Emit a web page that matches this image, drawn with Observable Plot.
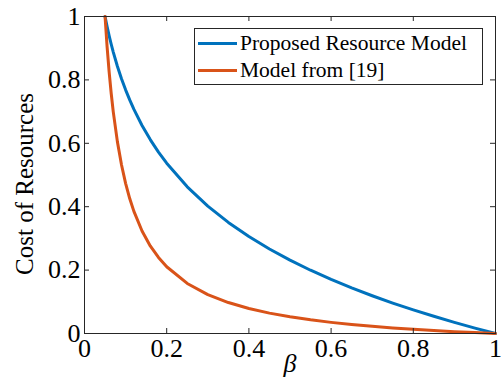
<!DOCTYPE html>
<html>
<head>
<meta charset="utf-8">
<script src="https://cdn.jsdelivr.net/npm/d3@7"></script>
<script src="https://cdn.jsdelivr.net/npm/@observablehq/plot@0.6"></script>
<style>
  body { margin: 0; background: white; }
  #wrap { position: relative; width: 501px; height: 388px; font-family: 'Liberation Serif', serif; }
  #wrap svg text { font-family: 'Liberation Serif', serif; }
  #legend { position: absolute; left: 194px; top: 28px; width: 287px; height: 55px; border: 1px solid #262626; background: white; font-family: 'Liberation Serif', serif; }
  .row { position: absolute; left: 3px; height: 27px; display: flex; align-items: center; font-size: 21.5px; color: #000; white-space: nowrap; }
  .sw { width: 39px; height: 3px; margin-right: 3px; }
</style>
</head>
<body>
<div id="wrap"></div>
<script>
const beta = [0.05,0.055,0.06,0.065,0.07,0.08,0.09,0.1,0.11,0.12,0.14,0.16,0.18,0.2,0.25,0.3,0.35,0.4,0.45,0.5,0.55,0.6,0.65,0.7,0.75,0.8,0.85,0.9,0.95,1.0];
const proposed = [1,0.9682,0.9391,0.9124,0.8877,0.8431,0.8038,0.7686,0.7368,0.7078,0.6563,0.6117,0.5724,0.5372,0.4628,0.4019,0.3504,0.3059,0.2666,0.2314,0.1996,0.1705,0.1438,0.1191,0.0960,0.0745,0.0543,0.0352,0.0171,0];
const model19 = [1,0.9043,0.8246,0.7571,0.6992,0.6053,0.5322,0.4737,0.4258,0.3860,0.3233,0.2763,0.2398,0.2105,0.1579,0.1228,0.0977,0.0789,0.0643,0.0526,0.0431,0.0351,0.0283,0.0226,0.0175,0.0132,0.0093,0.0058,0.0028,0];
const seriesNames = ["Proposed Resource Model", "Model from [19]"];
const seriesColors = ["#0072BD", "#D95319"];
const xTicks = [0,0.2,0.4,0.6,0.8,1];
const yTicks = [0,0.2,0.4,0.6,0.8,1];
const xLabel = "β";
const yLabel = "Cost of Resources";

const dataA = beta.map((b,i) => ({x: b, y: proposed[i]}));
const dataB = beta.map((b,i) => ({x: b, y: model19[i]}));
const axisColor = "#262626";
const fmt = d => String(d);
const serif = "Liberation Serif";

const chart = Plot.plot({
  width: 501, height: 388,
  marginLeft: 84, marginRight: 6, marginTop: 16, marginBottom: 55,
  x: {domain: [0,1]},
  y: {domain: [0,1]},
  style: {fontFamily: serif, background: "white", color: "#000", overflow: "visible"},
  marks: [
    Plot.line(dataA, {x: "x", y: "y", stroke: seriesColors[0], strokeWidth: 3}),
    Plot.line(dataB, {x: "x", y: "y", stroke: seriesColors[1], strokeWidth: 3}),
    Plot.ruleX(xTicks, {x: d => d, insetTop: 312, stroke: axisColor}),
    Plot.ruleX(xTicks, {x: d => d, insetBottom: 312, stroke: axisColor}),
    Plot.ruleY(yTicks, {y: d => d, insetRight: 406, stroke: axisColor}),
    Plot.ruleY(yTicks, {y: d => d, insetLeft: 406, stroke: axisColor}),
    Plot.frame({stroke: axisColor}),
    Plot.axisX({ticks: xTicks, tickSize: 0, tickPadding: 5, fontSize: 26, fontFamily: serif, tickFormat: fmt, label: null, fill: "#000"}),
    Plot.axisY({ticks: yTicks, tickSize: 0, tickPadding: 4, fontSize: 26, fontFamily: serif, tickFormat: fmt, label: null, fill: "#000"}),
    Plot.text([xLabel], {frameAnchor: "bottom", dy: 38, fontSize: 26, fontFamily: serif, fontStyle: "italic", fill: "#000"}),
    Plot.text([yLabel], {frameAnchor: "left", textAnchor: "middle", rotate: -90, dx: -60, dy: 9, fontSize: 25, fontFamily: serif, fill: "#000"})
  ]
});
const wrap = document.getElementById("wrap");
wrap.appendChild(chart);

const legend = document.createElement("div");
legend.id = "legend";
seriesNames.forEach((name, i) => {
  const row = document.createElement("div");
  row.className = "row";
  row.style.top = (1 + i * 27) + "px";
  const sw = document.createElement("div");
  sw.className = "sw";
  sw.style.background = seriesColors[i];
  const t = document.createElement("span");
  t.textContent = name;
  row.appendChild(sw); row.appendChild(t);
  legend.appendChild(row);
});
wrap.appendChild(legend);
</script>
</body>
</html>
